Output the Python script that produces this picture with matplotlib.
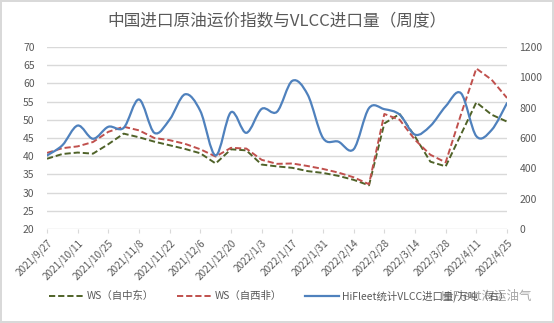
import matplotlib.pyplot as plt
import numpy as np
from matplotlib.lines import Line2D
from matplotlib.patches import PathPatch
from matplotlib.path import Path

plt.rcParams["font.family"] = ["Noto Sans CJK SC", "DejaVu Sans"]

weeks = [
    "2021/9/27", "2021/10/4", "2021/10/11", "2021/10/18", "2021/10/25",
    "2021/11/1", "2021/11/8", "2021/11/15", "2021/11/22", "2021/11/29",
    "2021/12/6", "2021/12/13", "2021/12/20", "2021/12/27", "2022/1/3",
    "2022/1/10", "2022/1/17", "2022/1/24", "2022/1/31", "2022/2/7",
    "2022/2/14", "2022/2/21", "2022/2/28", "2022/3/7", "2022/3/14",
    "2022/3/21", "2022/3/28", "2022/4/4", "2022/4/11", "2022/4/18",
    "2022/4/25",
]

# WS 运价指数（左轴）
ws_middle_east = [
    39.3, 40.6, 41.0, 40.7, 43.3, 46.2, 45.2, 44.0, 43.0, 42.0,
    40.8, 38.0, 41.9, 41.6, 37.7, 37.2, 36.8, 35.9, 35.4, 34.6,
    33.5, 32.0, 49.0, 51.6, 45.4, 38.5, 37.2, 46.0, 54.8, 51.4,
    49.5,
]
ws_west_africa = [
    40.9, 42.2, 42.7, 43.9, 46.7, 48.1, 47.1, 45.0, 44.4, 43.4,
    41.9, 39.9, 42.3, 42.1, 39.0, 37.9, 38.0, 37.3, 36.5, 35.5,
    34.2, 32.3, 51.6, 50.0, 44.5, 40.4, 38.3, 51.5, 64.1, 61.0,
    56.0,
]
# VLCC 进口量（右轴，万吨）
vlcc_imports = [
    485, 552, 682, 595, 674, 667, 854, 634, 722, 888,
    778, 485, 770, 634, 792, 773, 977, 886, 600, 576,
    526, 797, 790, 754, 622, 679, 809, 895, 612, 653,
    830,
]

label_me = "WS（自中东）"
label_wa = "WS（自西非）"
label_vlcc = "HiFleet统计VLCC进口量/万吨（右）"

GREEN = "#4F6228"
RED = "#C0504D"
BLUE = "#4F81BD"
TEXT = "#595959"
GRID = "#D9D9D9"


def smooth_path(x, y) -> Path:
    # Bezier 平滑曲线，经过每个数据点
    pts = np.column_stack([x, y]).astype(float)
    n = len(pts)
    verts = [pts[0]]
    codes = [Path.MOVETO]
    for i in range(n - 1):
        p0 = pts[i - 1] if i > 0 else pts[i]
        p1 = pts[i]
        p2 = pts[i + 1]
        p3 = pts[i + 2] if i + 2 < n else pts[i + 1]
        c1 = p1 + (p2 - p0) / 6.0
        c2 = p2 - (p3 - p1) / 6.0
        verts += [c1, c2, p2]
        codes += [Path.CURVE4] * 3
    return Path(verts, codes)


def plot_chart(output_path: str) -> None:
    fig = plt.figure(figsize=(5.54, 3.23), dpi=100)
    fig.patch.set_edgecolor(GRID)
    fig.patch.set_linewidth(1.5)

    ax = fig.add_axes([47 / 554, 94 / 323, 460 / 554, 182 / 323])
    ax2 = ax.twinx()

    x = np.arange(len(weeks))

    ax.plot(x, ws_middle_east, color=GREEN, lw=1.4, dashes=(3.2, 1.5), zorder=3)
    ax.plot(x, ws_west_africa, color=RED, lw=1.4, dashes=(3.2, 1.5), zorder=3)
    ax2.add_patch(PathPatch(smooth_path(x, vlcc_imports), facecolor="none",
                            edgecolor=BLUE, lw=1.6, capstyle="round", zorder=3))

    ax.set_xlim(0, len(weeks) - 1)
    ax.set_ylim(20, 70)
    ax.set_yticks(np.arange(20, 71, 5))
    ax2.set_ylim(0, 1200)
    ax2.set_yticks(np.arange(0, 1201, 200))

    ax.set_xticks(x[::2])
    ax.set_xticklabels(weeks[::2], rotation=45, ha="right",
                       rotation_mode="anchor", fontsize=7.2, color=TEXT)

    ax.grid(axis="y", color=GRID, lw=1.0)
    ax.set_axisbelow(True)
    for a in (ax, ax2):
        for side in ("top", "left", "right", "bottom"):
            a.spines[side].set_visible(False)
    ax.tick_params(axis="y", length=0, pad=9, labelsize=7.5, labelcolor=TEXT)
    ax2.tick_params(axis="y", length=0, pad=9, labelsize=7.5, labelcolor=TEXT)
    ax.tick_params(axis="x", length=3, color=GRID, pad=3)

    fig.text(0.5, 1 - 22 / 323, "中国进口原油运价指数与VLCC进口量（周度）",
             ha="center", va="center", fontsize=12, color=TEXT)

    handles = [
        Line2D([], [], color=GREEN, lw=1.4, dashes=(3.2, 1.5)),
        Line2D([], [], color=RED, lw=1.4, dashes=(3.2, 1.5)),
        Line2D([], [], color=BLUE, lw=1.6),
    ]
    leg = fig.legend(handles, [label_me, label_wa, label_vlcc], ncol=3,
                     loc="center left", bbox_to_anchor=(40 / 554, 1 - 296 / 323),
                     frameon=False, fontsize=7.5, handlelength=3.3,
                     handletextpad=0.3, columnspacing=2.2)
    for t in leg.get_texts():
        t.set_color(TEXT)

    # 水印
    fig.text(532 / 554, 1 - 296 / 323, "HiFleet海运油气", ha="right", va="center",
             fontsize=9, color="#8c8c8c", alpha=0.75)

    fig.savefig(output_path, dpi=100)
    plt.close(fig)


def main() -> None:
    plot_chart("out.png")


if __name__ == "__main__":
    main()
